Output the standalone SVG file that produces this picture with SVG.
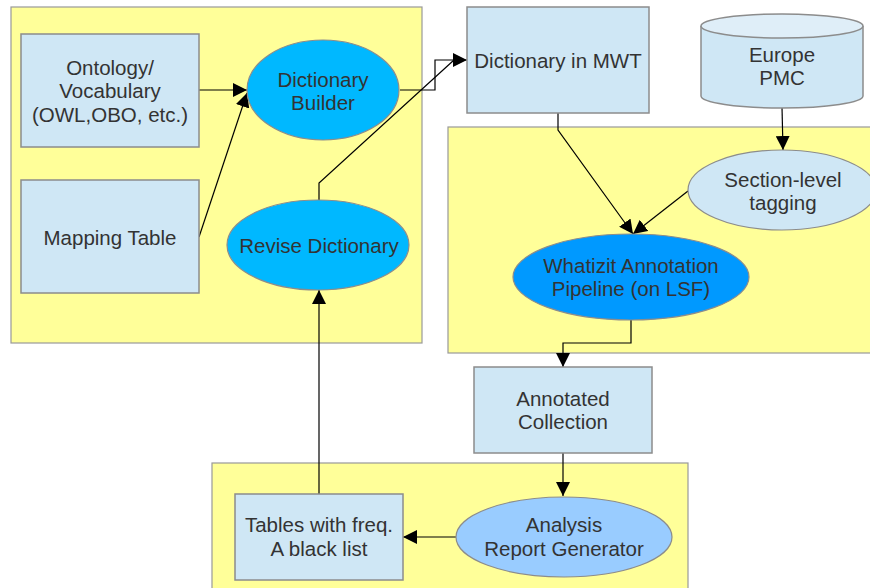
<svg xmlns="http://www.w3.org/2000/svg" width="870" height="588" viewBox="0 0 870 588">
<defs>
<marker id="ah" viewBox="0 0 10 10" refX="10" refY="5" markerWidth="14" markerHeight="14" markerUnits="userSpaceOnUse" orient="auto">
<path d="M0,0 L10,5 L0,10 z" fill="#000"/>
</marker>
</defs>
<style>
.grp{fill:#ffff99;stroke:#999999;stroke-width:1.2}
.box{fill:#cfe7f5;stroke:#8c8c8c;stroke-width:1.5}
.t{font-family:"Liberation Sans",Arial,sans-serif;font-size:20.5px;fill:#333333;text-anchor:middle}
.c{fill:none;stroke:#000;stroke-width:1.2}
</style>
<rect width="870" height="588" fill="#ffffff"/>
<g id="groups">
<rect class="grp" x="11" y="7" width="411" height="336"/>
<rect class="grp" x="448" y="127" width="430" height="226"/>
<rect class="grp" x="212" y="463" width="476" height="135"/>
</g>
<g id="connectors">
<path class="c" d="M199,90 L247,90" marker-end="url(#ah)"/>
<path class="c" d="M199,237 L247,93" marker-end="url(#ah)"/>
<path class="c" d="M400,90 L435,90 L435,60 L467,60" marker-end="url(#ah)"/>
<path class="c" d="M319,201 L319,183 L454,60"/>
<path class="c" d="M558,113 L558,130 L633,234" marker-end="url(#ah)"/>
<path class="c" d="M782,107 L783,150" marker-end="url(#ah)"/>
<path class="c" d="M688,191 L633,234" marker-end="url(#ah)"/>
<path class="c" d="M631,320 L631,343 L563,343 L563,367" marker-end="url(#ah)"/>
<path class="c" d="M563,453 L563,496" marker-end="url(#ah)"/>
<path class="c" d="M456,537 L403,537" marker-end="url(#ah)"/>
<path class="c" d="M319,494 L319,290" marker-end="url(#ah)"/>
</g>
<g id="ontology">
<rect class="box" x="21" y="34" width="178" height="113"/>
<text class="t" x="110" y="75">Ontology/</text>
<text class="t" x="110" y="98">Vocabulary</text>
<text class="t" x="110" y="122">(OWL,OBO, etc.)</text>
</g>
<g id="mapping">
<rect class="box" x="21" y="180" width="178" height="113"/>
<text class="t" x="110" y="245">Mapping Table</text>
</g>
<g id="builder">
<ellipse cx="323" cy="90" rx="76" ry="50" fill="#00b8ff" stroke="#8c8c8c" stroke-width="1.2"/>
<text class="t" x="323" y="87">Dictionary</text>
<text class="t" x="323" y="110">Builder</text>
</g>
<g id="revise">
<ellipse cx="318" cy="245" rx="91" ry="45" fill="#00b8ff" stroke="#8c8c8c" stroke-width="1.2"/>
<text class="t" x="319" y="253">Revise Dictionary</text>
</g>
<g id="mwt">
<rect class="box" x="467" y="7" width="182" height="106"/>
<text class="t" x="558" y="68">Dictionary in MWT</text>
</g>
<g id="pmc">
<path d="M701,26 L701,96 A81,12 0 0 0 863,96 L863,26" fill="#cfe7f5" stroke="#8c8c8c" stroke-width="1.5"/>
<ellipse cx="782" cy="26" rx="81" ry="12" fill="#dfeef8" stroke="#8c8c8c" stroke-width="1.5"/>
<text class="t" x="782" y="62">Europe</text>
<text class="t" x="782" y="85">PMC</text>
</g>
<g id="section">
<ellipse cx="782" cy="190" rx="94" ry="40" fill="#cfe7f5" stroke="#8c8c8c" stroke-width="1.2"/>
<text class="t" x="783" y="187">Section-level</text>
<text class="t" x="783" y="210">tagging</text>
</g>
<g id="whatizit">
<ellipse cx="631" cy="277" rx="118" ry="43" fill="#0099ff" stroke="#8c8c8c" stroke-width="1.2"/>
<text class="t" x="631" y="273">Whatizit Annotation</text>
<text class="t" x="631" y="296">Pipeline (on LSF)</text>
</g>
<g id="annotated">
<rect class="box" x="474" y="367" width="178" height="86"/>
<text class="t" x="563" y="406">Annotated</text>
<text class="t" x="563" y="429">Collection</text>
</g>
<g id="tables">
<rect class="box" x="235" y="494" width="168" height="86"/>
<text class="t" x="319" y="532">Tables with freq.</text>
<text class="t" x="319" y="556">A black list</text>
</g>
<g id="analysis">
<ellipse cx="564" cy="537" rx="108" ry="40" fill="#99ccff" stroke="#8c8c8c" stroke-width="1.2"/>
<text class="t" x="564" y="532">Analysis</text>
<text class="t" x="564" y="556">Report Generator</text>
</g>
</svg>
